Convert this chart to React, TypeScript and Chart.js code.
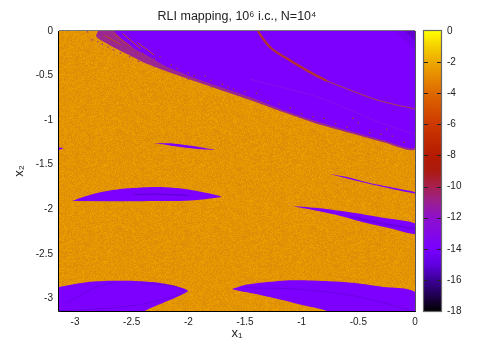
import React, { useEffect, useRef } from "react";
import { Chart, registerables } from "chart.js";

Chart.register(...registerables);

const axisRange = [-3.1416, 0];
const xTicks = [-3, -2.5, -2, -1.5, -1, -0.5, 0];
const yTicks = [-3, -2.5, -2, -1.5, -1, -0.5, 0];
const colorTicks = [0, -2, -4, -6, -8, -10, -12, -14, -16, -18];
const colorRange = [-18, 0];

const paletteValues = [0, -1, -2, -4, -6, -8, -9, -10, -11, -12, -14, -15, -16, -17, -18];
const paletteColors = ["#ffff00", "#f5cf00", "#eda900", "#de6800", "#cc3800", "#b51a00", "#ab1a10", "#a8204f", "#9a1f90", "#8e10cc", "#7800ff", "#6000e0", "#3c0098", "#200050", "#000000"];

const orangeShades = ["#e59800", "#e09006", "#ec9f00", "#db8c08", "#e39403"];

type P = number[];
const plotRect: P[] = [[-3.1416, 0], [0, 0], [0, -3.1416], [-3.1416, -3.1416]];

const topFringe: P[] = [[-2.78, 0.05], [-2.815, -0.056], [-2.789, -0.09], [-2.648, -0.191], [-2.542, -0.258], [-2.383, -0.359], [-2.206, -0.446], [-1.897, -0.583], [-1.456, -0.774], [-1.165, -0.909], [-0.865, -1.04], [-0.574, -1.144], [-0.282, -1.245], [0, -1.324], [0.05, 0.05]];
const topBody: P[] = [[-2.692, 0.05], [-2.542, -0.146], [-2.356, -0.28], [-2.206, -0.39], [-1.897, -0.55], [-1.456, -0.741], [-1.165, -0.886], [-0.865, -1.015], [-0.574, -1.122], [-0.282, -1.223], [0, -1.302], [0.05, 0.05]];
const cornerOuter: P[] = [[-0.176, 0], [0, 0], [0, -0.213]];
const cornerInner: P[] = [[-0.088, 0], [0, 0], [0, -0.112]];
const arcThick: P[] = [[-1.386, 0], [-1.333, -0.101], [-1.271, -0.191], [-1.13, -0.309], [-0.953, -0.443], [-0.777, -0.561]];
const arcThin: P[] = [[-0.777, -0.561], [-0.574, -0.662], [-0.335, -0.774], [0, -0.875]];
const faintStreak: P[] = [[-1.456, -0.54], [-0.865, -0.74], [-0.282, -1.04], [0, -1.16]];

const islandLeft: P[] = [[-3.142, -1.307], [-3.098, -1.313], [-3.142, -1.335]];
const islandA: P[] = [[-2.312, -1.257], [-2.136, -1.262], [-1.959, -1.29], [-1.765, -1.335], [-1.959, -1.318], [-2.136, -1.29], [-2.25, -1.264]];
const islandB: P[] = [[-3.027, -1.907], [-2.842, -1.829], [-2.665, -1.784], [-2.497, -1.762], [-2.277, -1.75], [-2.1, -1.762], [-1.924, -1.795], [-1.721, -1.851], [-1.712, -1.863], [-1.836, -1.885], [-2.012, -1.904], [-2.25, -1.907], [-2.692, -1.911]];
const islandBCore: P[] = [[-2.48, -1.835], [-2.277, -1.83], [-2.0, -1.845]];
const islandC: P[] = [[-0.75, -1.604], [-0.6, -1.638], [-0.397, -1.705], [-0.221, -1.75], [0, -1.806], [0, -1.823], [-0.221, -1.767], [-0.397, -1.717], [-0.6, -1.655]];
const islandD: P[] = [[-1.077, -1.964], [-0.838, -1.989], [-0.574, -2.034], [-0.282, -2.095], [0, -2.158], [0, -2.278], [-0.221, -2.214], [-0.459, -2.146], [-0.688, -2.065], [-0.9, -2.008], [-1.033, -1.978]];
const islandDCore: P[] = [[-0.574, -2.08], [-0.282, -2.16], [0, -2.22]];
const blobE: P[] = [[-3.3, -2.9], [-3.142, -2.872], [-3.001, -2.839], [-2.886, -2.816], [-2.736, -2.805], [-2.471, -2.805], [-2.295, -2.82], [-2.144, -2.853], [-2.047, -2.887], [-2.003, -2.917], [-2.047, -2.951], [-2.144, -3.01], [-2.268, -3.074], [-2.383, -3.142], [-2.5, -3.3], [-3.3, -3.3]];
const blobECoreA: P[] = [[-3.07, -3.05], [-2.83, -2.88], [-2.65, -2.82]];
const blobECoreB: P[] = [[-3.142, -3.14], [-2.53, -3.09], [-2.13, -2.98], [-2.04, -2.92], [-2.14, -2.86], [-2.42, -2.83]];
const blobF: P[] = [[-1.615, -2.895], [-1.5, -2.85], [-1.324, -2.82], [-1.085, -2.797], [-0.856, -2.802], [-0.556, -2.824], [-0.291, -2.869], [0, -2.928], [0.1, -3.3], [-0.6, -3.3], [-0.777, -3.142], [-0.997, -3.074], [-1.236, -2.999], [-1.438, -2.943], [-1.589, -2.906]];
const blobFCore: P[] = [[-1.5, -2.88], [-1.0, -2.9], [-0.5, -2.98], [-0.05, -3.13]];
const fringeStreaks: P[][] = [
  [[-2.74, -0.05], [-2.6, -0.15]],
  [[-2.66, -0.03], [-2.5, -0.18]],
  [[-2.58, -0.03], [-2.42, -0.2]],
  [[-2.45, -0.13], [-2.3, -0.27]],
];
const redSpeckles: P[] = [[-2.55, -0.17], [-2.5, -0.21], [-2.45, -0.25], [-2.4, -0.26], [-2.3, -0.31], [-2.25, -0.29], [-2.15, -0.38], [-2.1, -0.42], [-2.0, -0.47], [-1.95, -0.5], [-1.85, -0.51], [-1.8, -0.55], [-1.7, -0.6], [-1.65, -0.63], [-1.6, -0.65], [-1.5, -0.68], [-1.4, -0.7], [-1.3, -0.78], [-1.2, -0.82], [-1.1, -0.86], [-1.0, -0.93], [-0.9, -0.96], [-0.8, -0.98], [-0.7, -1.04], [-0.6, -1.08], [-0.5, -1.03], [-0.4, -1.14], [-0.3, -1.16], [-0.2, -1.18], [-0.1, -1.25], [-0.55, -0.98], [-0.25, -1.1]];
const purpleSpeckles: P[] = [[-2.89, -0.01], [-2.85, -0.1], [-2.8, -0.12], [-2.76, -0.15], [-2.71, -0.18], [-2.66, -0.21], [-2.6, -0.25], [-2.52, -0.29], [-2.44, -0.34], [-2.3, -0.4], [-2.15, -0.46], [-2.0, -0.54], [-1.8, -0.63]];

const font = { family: "'Liberation Sans', Arial, sans-serif", size: 10 };
const purple = "#7d00ff";
const innerShade = "#6a00e0";
const textColor = "#222222";

function polygon(points: P[], color: any, tension = 0) {
  return { data: points.map(([x, y]) => ({ x, y })), backgroundColor: color, borderWidth: 0, fill: "shape", showLine: true, pointRadius: 0, tension };
}
function stroke(points: P[], color: string, width: number, tension = 0.3) {
  return { data: points.map(([x, y]) => ({ x, y })), borderColor: color, borderWidth: width, fill: false, showLine: true, pointRadius: 0, tension };
}
function arc(points: P[], color: string, width: number) {
  return { data: points.map(([x, y]) => ({ x, y })), borderColor: color, borderWidth: width, fill: false, showLine: true, pointRadius: 0, cubicInterpolationMode: "monotone" };
}
function dots(points: P[], color: string) {
  return { data: points.map(([x, y]) => ({ x, y })), backgroundColor: color, borderWidth: 0, pointRadius: 0.9, pointStyle: "rect", showLine: false };
}

function orangePattern() {
  const tile = document.createElement("canvas");
  tile.width = 97;
  tile.height = 97;
  const c = tile.getContext("2d")!;
  for (let i = 0; i < 97; i++) {
    for (let j = 0; j < 97; j++) {
      const k = ((i * 73) ^ (j * 151)) + ((i * j * 29) >> 2) + ((i * i * 11) ^ (j * j * 5));
      c.fillStyle = orangeShades[k % orangeShades.length];
      c.fillRect(i, j, 1, 1);
    }
  }
  return c.createPattern(tile, "repeat");
}

const framePlugin = {
  id: "frame",
  afterDraw(chart: any) {
    const { ctx, chartArea: a } = chart;
    ctx.save();
    ctx.lineWidth = 1;
    ctx.strokeStyle = "#777777";
    ctx.beginPath();
    ctx.moveTo(a.left, a.top - 0.5);
    ctx.lineTo(a.right, a.top - 0.5);
    ctx.stroke();
    ctx.strokeStyle = "#555555";
    ctx.beginPath();
    ctx.moveTo(a.right + 0.5, a.top);
    ctx.lineTo(a.right + 0.5, a.bottom);
    ctx.stroke();
    ctx.strokeStyle = "#000000";
    ctx.beginPath();
    ctx.moveTo(a.left - 0.5, a.top);
    ctx.lineTo(a.left - 0.5, a.bottom + 0.5);
    ctx.lineTo(a.right + 1, a.bottom + 0.5);
    ctx.stroke();
    ctx.restore();
  },
};

const barFramePlugin = {
  id: "barFrame",
  afterDraw(chart: any) {
    const { ctx, chartArea: a, scales } = chart;
    ctx.save();
    ctx.strokeStyle = "#666666";
    ctx.lineWidth = 1.2;
    ctx.strokeRect(a.left - 0.5, a.top - 0.5, a.right - a.left + 1, a.bottom - a.top + 1);
    ctx.strokeStyle = "#222222";
    ctx.lineWidth = 1;
    scales.y.ticks.forEach((t: any) => {
      if (t.value === 0 || t.value === -18) return;
      const y = Math.round(scales.y.getPixelForValue(t.value)) + 0.5;
      ctx.beginPath();
      ctx.moveTo(a.left, y);
      ctx.lineTo(a.left + 4, y);
      ctx.moveTo(a.right - 4, y);
      ctx.lineTo(a.right, y);
      ctx.stroke();
    });
    ctx.restore();
  },
};

export default function App() {
  const mainRef = useRef<HTMLCanvasElement>(null);
  const barRef = useRef<HTMLCanvasElement>(null);

  useEffect(() => {
    const layers: any[] = [
      polygon(plotRect, orangePattern()),
      polygon(topFringe, "#9a2890", 0.2),
      polygon(topBody, purple, 0.2),
      polygon(cornerOuter, "#7400f0"),
      polygon(cornerInner, "#6400d0"),
      arc(arcThick, "#b5342e", 2.2),
      arc(arcThin, "#a83a58", 1.1),
      stroke(faintStreak, "#8510e8", 1, 0.3),
      ...fringeStreaks.map((s) => stroke(s, "#c0481e", 1, 0)),
      polygon(islandLeft, purple),
      polygon(islandA, purple, 0.2),
      polygon(islandB, purple, 0.25),
      stroke(islandBCore, "#5a00c4", 1),
      polygon(islandC, purple, 0.2),
      polygon(islandD, purple, 0.2),
      stroke(islandDCore, innerShade, 2),
      polygon(blobE, purple, 0.25),
      stroke(blobECoreA, innerShade, 1),
      stroke(blobECoreB, innerShade, 1),
      polygon(blobF, purple, 0.25),
      stroke(blobFCore, innerShade, 1),
      dots(redSpeckles, "#b0382c"),
      dots(purpleSpeckles, "#9a3090"),
    ];
    const main = new Chart(mainRef.current!, {
      type: "scatter",
      data: { datasets: layers.reverse() },
      plugins: [framePlugin],
      options: {
        animation: false,
        responsive: false,
        layout: { padding: { right: 87 } },
        plugins: {
          legend: { display: false },
          tooltip: { enabled: false },
          title: {
            display: true,
            text: "RLI mapping, 10⁶ i.c., N=10⁴",
            fullSize: false,
            color: textColor,
            font: { family: font.family, size: 12.5, weight: "normal", lineHeight: 1.2 },
            padding: { top: 9, bottom: 7 },
          },
        },
        scales: {
          x: {
            type: "linear",
            min: axisRange[0],
            max: axisRange[1],
            afterBuildTicks: (s: any) => { s.ticks = xTicks.map((value) => ({ value })); },
            afterFit: (s: any) => { s.height = 41; },
            grid: { display: false, drawTicks: false },
            border: { display: false },
            ticks: { font, color: textColor, padding: 5, maxRotation: 0, autoSkip: false, callback: (v: any) => String(v) },
            title: { display: true, text: "x₁", font: { family: font.family, size: 13 }, color: textColor, padding: { top: 11, bottom: 11 } },
          },
          y: {
            type: "linear",
            min: axisRange[0],
            max: axisRange[1],
            afterBuildTicks: (s: any) => { s.ticks = yTicks.map((value) => ({ value })); },
            afterFit: (s: any) => { s.width = 59; },
            grid: { display: false, drawTicks: false },
            border: { display: false },
            ticks: { font, color: textColor, padding: 6, autoSkip: false, callback: (v: any) => String(v) },
            title: { display: true, text: "x₂", font: { family: font.family, size: 13 }, color: textColor, padding: { top: 12, bottom: 12 } },
          },
        },
      } as any,
    });

    const bar = new Chart(barRef.current!, {
      type: "bar",
      data: {
        labels: ["RLI"],
        datasets: [{
          data: [colorRange as any],
          barPercentage: 1,
          categoryPercentage: 1,
          borderWidth: 0,
          backgroundColor: (c: any) => {
            const y = c.chart.scales.y;
            if (!c.chart.chartArea || !y) return "#7800ff";
            const g = c.chart.ctx.createLinearGradient(0, y.getPixelForValue(0), 0, y.getPixelForValue(-18));
            paletteValues.forEach((v, i) => g.addColorStop(-v / 18, paletteColors[i]));
            return g;
          },
        }],
      },
      plugins: [barFramePlugin],
      options: {
        animation: false,
        responsive: false,
        layout: { padding: { left: 6, top: 31, bottom: 41 } },
        plugins: { legend: { display: false }, tooltip: { enabled: false } },
        scales: {
          x: { display: false },
          y: {
            position: "right",
            min: colorRange[0],
            max: colorRange[1],
            afterBuildTicks: (s: any) => { s.ticks = colorTicks.map((value) => ({ value })); },
            afterFit: (s: any) => { s.width = 61; },
            grid: { display: false, drawTicks: false },
            border: { display: false },
            ticks: { font, color: textColor, padding: 6, autoSkip: false, callback: (v: any) => String(v) },
          },
        },
      } as any,
    });
    return () => { main.destroy(); bar.destroy(); };
  }, []);

  return (
    <div style={{ position: "absolute", left: 0, top: 0, width: 502, height: 352, background: "#fff" }}>
      <canvas ref={mainRef} width={502} height={352} style={{ position: "absolute", left: 0, top: 0 }} />
      <canvas ref={barRef} width={84} height={352} style={{ position: "absolute", left: 418, top: 0 }} />
    </div>
  );
}
